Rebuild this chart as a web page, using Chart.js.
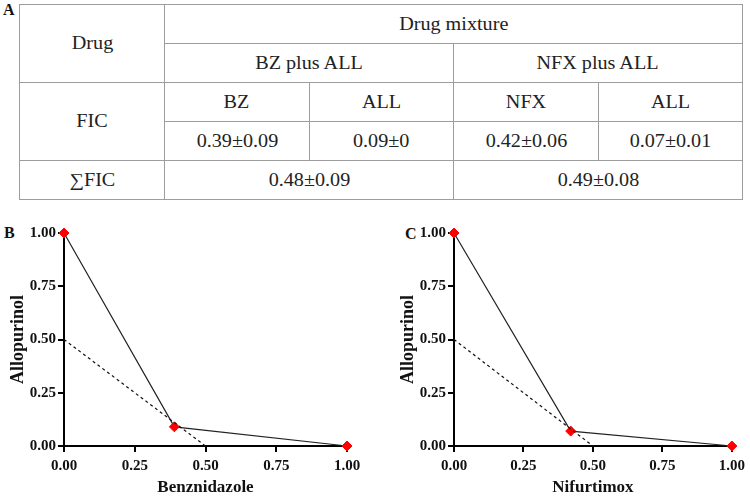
<!DOCTYPE html>
<html>
<head>
<meta charset="utf-8">
<script src="https://cdn.jsdelivr.net/npm/chart.js@4"></script>
<style>
  body { margin: 0; width: 750px; height: 496px; background: #fff; position: relative; overflow: hidden;
         font-family: "Liberation Serif", "Times New Roman", serif; }
  .panel { position: absolute; font-weight: bold; font-size: 16px; line-height: 16px; color: #111; }
  #tbl { position: absolute; left: 19px; top: 4px; border-collapse: collapse; table-layout: fixed; }
  #tbl td { border: 1px solid #9d9d9d; padding: 0; text-align: center; font-size: 18px; color: #222; }
  #tbl td span { display: inline-block; transform: scaleX(1.12); }
  #tbl tr { height: 39px; }
  canvas { position: absolute; top: 220px; }
</style>
</head>
<body>
<div class="panel" style="left:3px;top:2px">A</div>
<div class="panel" style="left:4px;top:225px">B</div>
<div class="panel" style="left:405px;top:226px">C</div>
<table id="tbl"></table>
<canvas id="chartB" width="370" height="276" style="left:0px"></canvas>
<canvas id="chartC" width="360" height="276" style="left:390px"></canvas>
<script>
// table text (panel A)
const headerTop = ["Drug", "Drug mixture"];
const mixtures = ["BZ plus ALL", "NFX plus ALL"];
const ficDrugs = ["BZ", "ALL", "NFX", "ALL"];
const ficValues = ["0.39±0.09", "0.09±0", "0.42±0.06", "0.07±0.01"];
const sumFic = ["0.48±0.09", "0.49±0.08"];

// isobologram values (panels B and C)
const bzFic = [0, 0.39, 1];
const allWithBz = [1, 0.09, 0];
const nfxFic = [0, 0.42, 1];
const allWithNfx = [1, 0.07, 0];
// additive line
const additiveX = [0, 0.5];
const additiveY = [0.5, 0];
const tickValues = [0, 0.25, 0.5, 0.75, 1];

const COL_WIDTHS = [145, 145, 144, 145, 144];

function cell(text, colspan, rowspan) {
  const td = document.createElement("td");
  const span = document.createElement("span");
  span.textContent = text;
  td.appendChild(span);
  if (colspan) td.colSpan = colspan;
  if (rowspan) td.rowSpan = rowspan;
  return td;
}

function buildTable() {
  const table = document.getElementById("tbl");
  const cg = document.createElement("colgroup");
  for (const w of COL_WIDTHS) {
    const c = document.createElement("col");
    c.style.width = w + "px";
    cg.appendChild(c);
  }
  table.appendChild(cg);
  const rows = [];
  for (let i = 0; i < 5; i++) rows.push(table.insertRow());
  rows[0].appendChild(cell(headerTop[0], 0, 2));
  rows[0].appendChild(cell(headerTop[1], 4));
  for (const m of mixtures) rows[1].appendChild(cell(m, 2));
  rows[2].appendChild(cell("FIC", 0, 2));
  for (const d of ficDrugs) rows[2].appendChild(cell(d));
  for (const v of ficValues) rows[3].appendChild(cell(v));
  rows[4].appendChild(cell("∑FIC"));
  for (const s of sumFic) rows[4].appendChild(cell(s, 2));
}

function toPoints(xs, ys) {
  return xs.map((x, i) => ({ x: x, y: ys[i] }));
}

function axisCommon() {
  return {
    min: 0,
    max: 1,
    afterBuildTicks: (scale) => { scale.ticks = tickValues.map((v) => ({ value: v })); },
    ticks: {
      color: "#111",
      font: { size: 15, weight: "bold" },
      callback: (v) => Number(v).toFixed(2),
    },
    grid: { drawOnChartArea: false, drawTicks: true, tickLength: 6, color: "#000", lineWidth: 2 },
    border: { display: true, color: "#000", width: 2 },
  };
}

function makeChart(id, xs, ys, xTitle, padRight) {
  const x = axisCommon();
  x.ticks.padding = 5;
  x.title = { display: true, text: xTitle, color: "#111", padding: { top: 0, bottom: 0 },
              font: { size: 17, weight: "bold", lineHeight: 1 } };
  x.afterFit = (s) => { s.height = 50; };
  const y = axisCommon();
  y.ticks.padding = 2;
  y.title = { display: true, text: "Allopurinol", color: "#111", padding: { top: 9, bottom: 0 },
              font: { size: 18, weight: "bold", lineHeight: 1 } };
  y.afterFit = (s) => { s.width = 64; };

  return new Chart(document.getElementById(id), {
    type: "scatter",
    data: {
      datasets: [
        {
          data: toPoints(additiveX, additiveY),
          showLine: true,
          borderColor: "#111",
          borderWidth: 1.2,
          borderDash: [3, 3],
          pointRadius: 0,
          clip: false,
        },
        {
          data: toPoints(xs, ys),
          showLine: true,
          borderColor: "#222",
          borderWidth: 1.2,
          pointStyle: "rectRot",
          pointRadius: 5,
          pointBackgroundColor: "#ff0000",
          pointBorderColor: "#ff0000",
          pointBorderWidth: 1,
          clip: false,
        },
      ],
    },
    options: {
      responsive: false,
      animation: false,
      layout: { padding: { top: 13, right: padRight, left: 0, bottom: 0 } },
      plugins: { legend: { display: false }, tooltip: { enabled: false } },
      scales: { x: x, y: y },
    },
  });
}

Chart.defaults.font.family = "'Liberation Serif', 'Times New Roman', serif";
buildTable();
makeChart("chartB", bzFic, allWithBz, "Benznidazole", 23);
makeChart("chartC", nfxFic, allWithNfx, "Nifurtimox", 13);
</script>
</body>
</html>
